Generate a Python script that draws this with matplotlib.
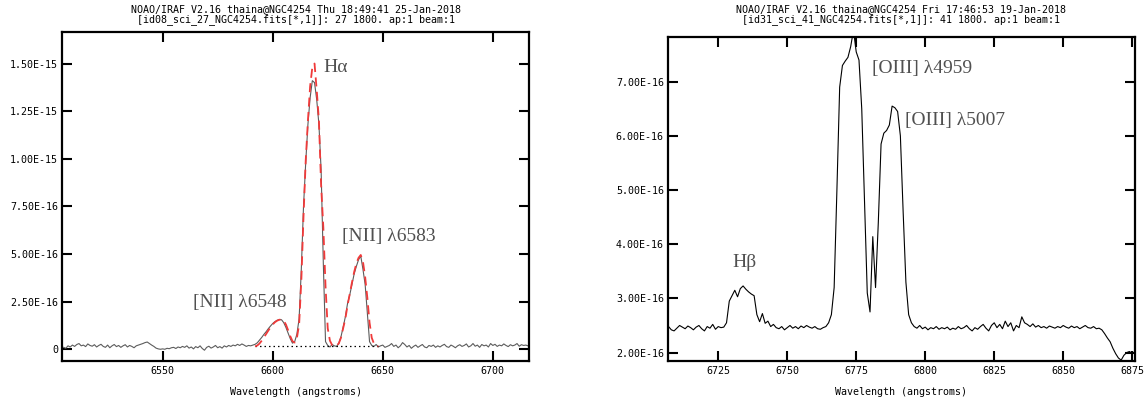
import numpy as np
import matplotlib.pyplot as plt

MONO = 'DejaVu Sans Mono'
SERIF = ['Liberation Serif', 'DejaVu Serif']
SCALE = 1e-16  # fluxes below are listed in units of 1e-16

# --- left panel: H-alpha + [NII], spectrum sampled every 1 A from 6505 A ---
ha_start = 6505.0
ha_flux = [
    0.10, 0.05, 0.18, 0.12, 0.22, 0.15, 0.25, 0.30, 0.18, 0.22,
    0.14, 0.28, 0.20, 0.16, 0.24, 0.12, 0.20, 0.26, 0.15, 0.10,
    0.22, 0.08, 0.18, 0.25, 0.14, 0.20, 0.10, 0.18, 0.24, 0.12,
    0.20, 0.15, 0.08, 0.18, 0.22, 0.26, 0.30, 0.35, 0.38, 0.30,
    0.22, 0.15, 0.06, 0.02, 0.00, 0.02, 0.00, 0.05, 0.03, 0.08,
    0.10, 0.04, 0.12, 0.08, 0.15, 0.10, 0.18, 0.06, 0.12, 0.02,
    0.14, 0.08, 0.18, 0.04, -0.05, 0.10, 0.16, 0.06, 0.12, 0.20,
    0.08, 0.14, 0.06, 0.18, 0.12, 0.20, 0.15, 0.22, 0.18, 0.26,
    0.20, 0.28, 0.22, 0.15, 0.20, 0.18, 0.22, 0.26, 0.34, 0.48,
    0.62, 0.78, 0.92, 1.08, 1.22, 1.35, 1.45, 1.52, 1.56, 1.55,
    1.40, 1.15, 0.85, 0.55, 0.32, 0.40, 0.80, 1.60, 4.20, 7.50,
    9.80, 11.8, 13.2, 14.1, 14.0, 13.1, 11.8, 9.40, 4.50, 0.40,
    0.20, 0.12, 0.25, 0.18, 0.15, 0.30, 0.65, 1.15, 1.70, 2.40,
    2.85, 3.40, 3.95, 4.35, 4.70, 4.90, 4.20, 3.40, 1.90, 0.40,
    0.20, 0.15, 0.25, 0.12, 0.18, 0.22, 0.10, 0.15, 0.20, 0.30,
    0.15, 0.22, 0.08, 0.18, 0.35, 0.25, 0.12, 0.20, 0.05, 0.15,
    0.22, 0.10, 0.18, 0.25, 0.12, 0.08, 0.20, 0.15, 0.22, 0.10,
    0.18, 0.12, 0.20, 0.26, 0.14, 0.10, 0.22, 0.16, 0.08, 0.18,
    0.24, 0.15, 0.20, 0.28, 0.12, 0.18, 0.30, 0.16, 0.22, 0.10,
    0.25, 0.18, 0.22, 0.12, 0.30, 0.20, 0.26, 0.15, 0.22, 0.18,
    0.28, 0.20, 0.14, 0.24, 0.18, 0.22, 0.30, 0.16, 0.24, 0.20,
    0.22, 0.18,
]
# three-gaussian fit (red dashed), every 1 A from 6592 A
fit_start = 6592.0
ha_fit = [
    0.15, 0.20, 0.30, 0.45, 0.62, 0.80, 0.98, 1.15, 1.30, 1.42,
    1.50, 1.55, 1.56, 1.50, 1.30, 1.00, 0.68, 0.42, 0.35, 0.60,
    1.30, 3.60, 7.00, 9.90, 12.0, 13.8, 14.8, 15.0, 13.6, 12.0,
    8.60, 6.40, 3.30, 1.10, 0.45, 0.22, 0.18, 0.20, 0.30, 0.60,
    1.10, 1.60, 2.30, 2.90, 3.50, 4.05, 4.50, 4.80, 4.95, 4.60,
    3.80, 2.70, 1.40, 0.60, 0.30, 0.18, 0.15,
]
fit_base = 0.15
ha_xticks = [6550, 6600, 6650, 6700]
ha_yticks = [0, 2.5, 5.0, 7.5, 10.0, 12.5, 15.0]
ha_ylabels = ['0', '2.50E-16', '5.00E-16', '7.50E-16', '1.00E-15', '1.25E-15', '1.50E-15']
ha_lines = ['[NII] λ6548', 'Hα', '[NII] λ6583']
ha_title = ['NOAO/IRAF V2.16 thaina@NGC4254 Thu 18:49:41 25-Jan-2018',
            '[id08_sci_27_NGC4254.fits[*,1]]: 27 1800. ap:1 beam:1']

# --- right panel: H-beta + [OIII], every 1 A from 6707 A ---
hb_start = 6707.0
hb_flux = [
    2.48, 2.42, 2.40, 2.45, 2.50, 2.47, 2.44, 2.49, 2.46, 2.42,
    2.47, 2.50, 2.44, 2.40, 2.48, 2.45, 2.52, 2.43, 2.48, 2.46,
    2.47, 2.55, 2.95, 3.05, 3.15, 3.03, 3.18, 3.23, 3.17, 3.12,
    3.08, 3.05, 2.70, 2.57, 2.72, 2.54, 2.58, 2.48, 2.52, 2.46,
    2.44, 2.48, 2.42, 2.46, 2.50, 2.45, 2.48, 2.44, 2.49, 2.46,
    2.50, 2.47, 2.45, 2.48, 2.44, 2.43, 2.46, 2.48, 2.55, 2.70,
    3.20, 5.00, 6.90, 7.30, 7.38, 7.45, 7.65, 7.95, 7.55, 7.40,
    6.50, 4.80, 3.10, 2.75, 4.14, 3.20, 4.40, 5.85, 6.05, 6.10,
    6.20, 6.55, 6.52, 6.45, 6.00, 4.60, 3.30, 2.70, 2.55, 2.48,
    2.45, 2.50, 2.44, 2.47, 2.42, 2.46, 2.44, 2.48, 2.43, 2.46,
    2.44, 2.47, 2.42, 2.45, 2.43, 2.48, 2.44, 2.46, 2.50, 2.44,
    2.40, 2.46, 2.43, 2.48, 2.52, 2.45, 2.40, 2.50, 2.55, 2.46,
    2.52, 2.44, 2.58, 2.48, 2.55, 2.40, 2.50, 2.46, 2.66, 2.55,
    2.52, 2.48, 2.53, 2.47, 2.50, 2.46, 2.48, 2.45, 2.49, 2.47,
    2.45, 2.48, 2.46, 2.50, 2.47, 2.45, 2.49, 2.46, 2.48, 2.44,
    2.47, 2.50, 2.46, 2.45, 2.48, 2.44, 2.45, 2.42, 2.35, 2.27,
    2.20, 2.08, 1.98, 1.90, 1.86, 1.95, 2.00, 2.02, 1.98, 2.02,
]
hb_xticks = [6725, 6750, 6775, 6800, 6825, 6850, 6875]
hb_yticks = [2.0, 3.0, 4.0, 5.0, 6.0, 7.0]
hb_ylabels = ['2.00E-16', '3.00E-16', '4.00E-16', '5.00E-16', '6.00E-16', '7.00E-16']
hb_lines = ['Hβ', '[OIII] λ4959', '[OIII] λ5007']
hb_title = ['NOAO/IRAF V2.16 thaina@NGC4254 Fri 17:46:53 19-Jan-2018',
            '[id31_sci_41_NGC4254.fits[*,1]]: 41 1800. ap:1 beam:1']


def wavelengths(start, values):
    return start + np.arange(len(values))


def style_panel(ax, xticks, yticks, ylabels, title):
    ax.set_xticks(xticks)
    ax.set_xticklabels([str(t) for t in xticks], fontfamily=MONO, fontsize=7.2)
    ax.set_yticks(np.array(yticks) * SCALE)
    ax.set_yticklabels(ylabels, fontfamily=MONO, fontsize=7.2)
    ax.tick_params(direction='in', length=7, width=1.5, top=True, right=True, color='black')
    ax.tick_params(axis='x', pad=4)
    ax.tick_params(axis='y', pad=3)
    for spine in ax.spines.values():
        spine.set_linewidth(1.6)
    bb = ax.get_position()
    xc = (bb.x0 + bb.x1) / 2
    fig.text(xc, 1 - 9 / 405, title[0], ha='center', va='center', fontfamily=MONO, fontsize=7.2)
    fig.text(xc, 1 - 20 / 405, title[1], ha='center', va='center', fontfamily=MONO, fontsize=7.2)
    fig.text(xc, 1 - 392 / 405, 'Wavelength (angstroms)', ha='center', va='center',
             fontfamily=MONO, fontsize=7.2)


fig = plt.figure(figsize=(11.47, 4.05), dpi=100)
ax1 = fig.add_axes([0.0543, 0.1094, 0.4072, 0.8123])
ax2 = fig.add_axes([0.5824, 0.1094, 0.4071, 0.7985])

# left: H-alpha region with fit
wl = wavelengths(ha_start, ha_flux)
fit_wl = wavelengths(fit_start, ha_fit)
ax1.plot(wl, np.array(ha_flux) * SCALE, color='#5c5c5c', lw=0.8)
ax1.hlines(fit_base * SCALE, fit_wl[0], fit_wl[-1], colors='black', lw=0.9,
           linestyles=(0, (1.2, 2.4)))
ax1.plot(fit_wl, np.array(ha_fit) * SCALE, color='#f03a3a', lw=1.3, dashes=(5, 3))
ax1.set_xlim(6504.4, 6716.6)
ax1.set_ylim(-0.6 * SCALE, 16.67 * SCALE)
style_panel(ax1, ha_xticks, ha_yticks, ha_ylabels, ha_title)

txt = dict(ha='left', va='center', fontfamily=SERIF, fontsize=14, color='#505050')
ax1.text(6564.0, 2.48 * SCALE, ha_lines[0], **txt)
ax1.text(6623.0, 14.77 * SCALE, ha_lines[1], **txt)
ax1.text(6631.6, 5.90 * SCALE, ha_lines[2], **txt)

# right: H-beta + [OIII]
wl2 = wavelengths(hb_start, hb_flux)
ax2.plot(wl2, np.array(hb_flux) * SCALE, color='black', lw=0.8)
ax2.set_xlim(6706.8, 6876.0)
ax2.set_ylim(1.85 * SCALE, 7.82 * SCALE)
style_panel(ax2, hb_xticks, hb_yticks, hb_ylabels, hb_title)

ax2.text(6730.3, 3.67 * SCALE, hb_lines[0], **txt)
ax2.text(6780.7, 7.25 * SCALE, hb_lines[1], **txt)
ax2.text(6792.6, 6.29 * SCALE, hb_lines[2], **txt)

fig.savefig('out.png', dpi=100)
